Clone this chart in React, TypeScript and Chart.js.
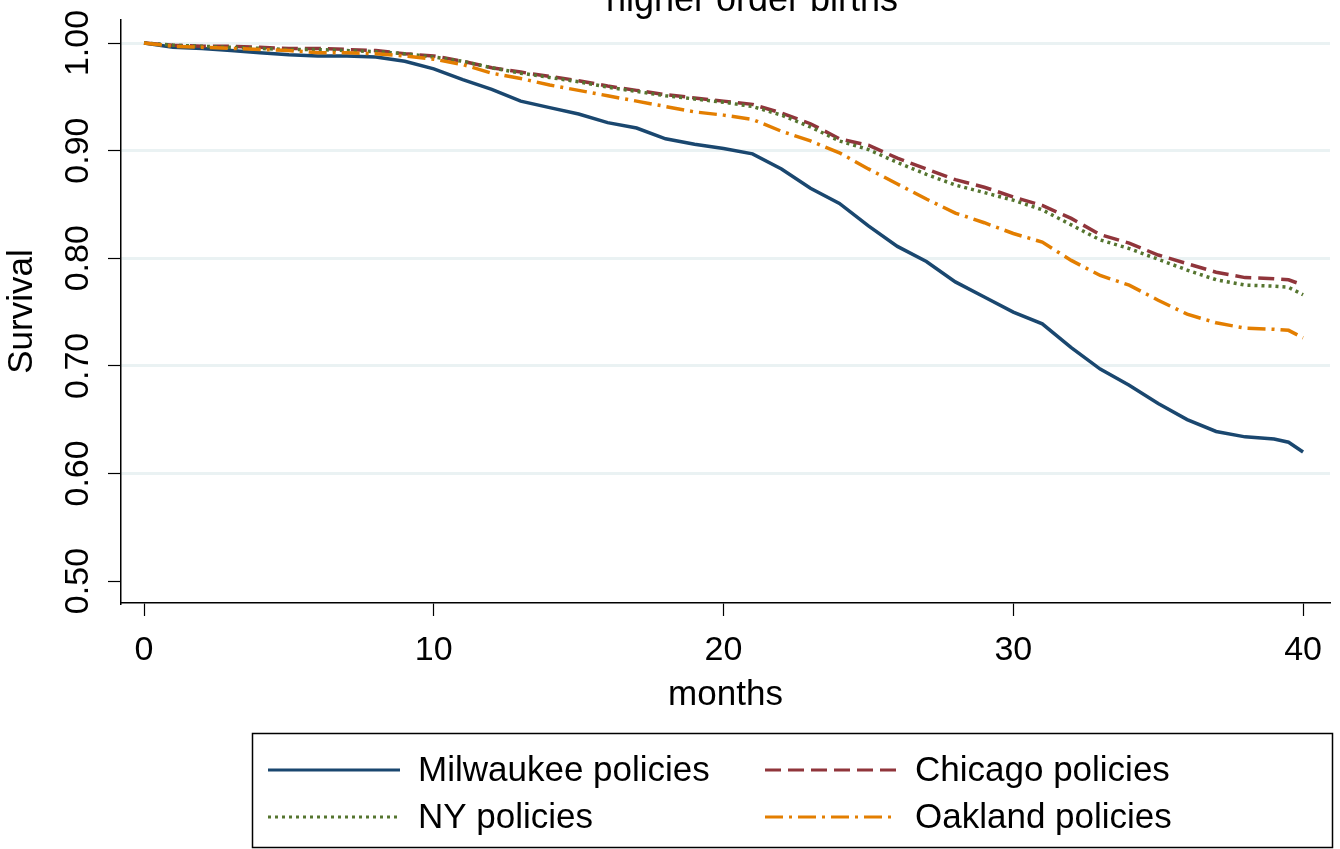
import React, { useEffect, useRef } from 'react';
import { Chart, registerables } from 'chart.js';

Chart.register(...registerables);

const TITLE = 'higher order births';
const X_TITLE = 'months';
const Y_TITLE = 'Survival';

const months = [0, 1, 2, 3, 4, 5, 6, 7, 8, 9, 10, 11, 12, 13, 14, 15, 16, 17, 18, 19, 20,
  21, 22, 23, 24, 25, 26, 27, 28, 29, 30, 31, 32, 33, 34, 35, 36, 37, 38, 39, 39.5, 40];

const milwaukee = [1.000, 0.996, 0.995, 0.993, 0.991, 0.989, 0.988, 0.988, 0.987, 0.983, 0.976,
  0.966, 0.957, 0.946, 0.940, 0.934, 0.926, 0.921, 0.911, 0.906, 0.902,
  0.897, 0.883, 0.865, 0.851, 0.830, 0.811, 0.797, 0.778, 0.764, 0.750,
  0.739, 0.717, 0.697, 0.682, 0.665, 0.650, 0.639, 0.634, 0.632, 0.629, 0.620];

const chicago = [1.000, 0.998, 0.997, 0.997, 0.996, 0.995, 0.995, 0.994, 0.993, 0.990, 0.988,
  0.983, 0.977, 0.973, 0.969, 0.965, 0.960, 0.956, 0.952, 0.949, 0.946,
  0.943, 0.935, 0.925, 0.911, 0.905, 0.893, 0.883, 0.873, 0.866, 0.857,
  0.849, 0.837, 0.822, 0.814, 0.803, 0.795, 0.787, 0.782, 0.781, 0.780, 0.775];

const ny = [1.000, 0.998, 0.997, 0.996, 0.995, 0.994, 0.994, 0.993, 0.992, 0.990, 0.987,
  0.983, 0.977, 0.972, 0.968, 0.964, 0.959, 0.955, 0.951, 0.948, 0.945,
  0.941, 0.933, 0.922, 0.909, 0.901, 0.889, 0.878, 0.868, 0.861, 0.854,
  0.845, 0.831, 0.817, 0.809, 0.799, 0.789, 0.780, 0.775, 0.774, 0.773, 0.766];

const oakland = [1.000, 0.997, 0.996, 0.995, 0.994, 0.993, 0.991, 0.991, 0.990, 0.988, 0.985,
  0.980, 0.972, 0.967, 0.961, 0.956, 0.951, 0.946, 0.941, 0.936, 0.933,
  0.929, 0.918, 0.909, 0.898, 0.883, 0.869, 0.855, 0.842, 0.833, 0.823,
  0.815, 0.798, 0.784, 0.775, 0.761, 0.748, 0.740, 0.735, 0.734, 0.733, 0.726];

const seriesNames = ['Milwaukee policies', 'Chicago policies', 'NY policies', 'Oakland policies'];
const xTickValues = [0, 10, 20, 30, 40];
const yTickValues = [0.5, 0.6, 0.7, 0.8, 0.9, 1.0];

const FONT = '"Liberation Sans", Arial, Helvetica, sans-serif';

const toPoints = (ys: number[]) => months.map((m, i) => ({ x: m, y: ys[i] }));

const titlePlugin = {
  id: 'stataTitle',
  afterDraw(chart: any) {
    const ctx = chart.ctx;
    ctx.save();
    ctx.font = `36px ${FONT}`;
    ctx.fillStyle = '#000';
    ctx.textAlign = 'center';
    ctx.textBaseline = 'alphabetic';
    ctx.fillText(TITLE, 752, 11);
    ctx.restore();
  },
};

const legendPlugin = {
  id: 'stataLegend',
  afterDraw(chart: any) {
    const ctx = chart.ctx;
    ctx.save();
    ctx.strokeStyle = '#000';
    ctx.lineWidth = 1.5;
    ctx.setLineDash([]);
    ctx.strokeRect(252.5, 733.5, 1080, 114);
    const slots = [
      { x: 268, y: 770 },
      { x: 765, y: 770 },
      { x: 268, y: 817 },
      { x: 765, y: 817 },
    ];
    chart.data.datasets.forEach((ds: any, i: number) => {
      const s = slots[i];
      ctx.save();
      ctx.strokeStyle = ds.borderColor;
      ctx.lineWidth = 3;
      ctx.setLineDash(ds.borderDash || []);
      ctx.lineCap = 'butt';
      ctx.beginPath();
      ctx.moveTo(s.x, s.y);
      ctx.lineTo(s.x + 132, s.y);
      ctx.stroke();
      ctx.restore();
      ctx.fillStyle = '#000';
      ctx.font = `35px ${FONT}`;
      ctx.textAlign = 'left';
      ctx.textBaseline = 'middle';
      ctx.fillText(ds.label, s.x + 150, s.y + 1);
    });
    ctx.restore();
  },
};

export default function App() {
  const ref = useRef<HTMLCanvasElement | null>(null);

  useEffect(() => {
    document.body.style.margin = '0';
    const canvas = ref.current;
    if (!canvas) return;
    const chart = new Chart(canvas, {
      type: 'line',
      data: {
        datasets: [
          { label: seriesNames[0], data: toPoints(milwaukee), borderColor: '#1A476F', borderWidth: 3.5, borderDash: [], order: 4 },
          { label: seriesNames[1], data: toPoints(chicago), borderColor: '#90353B', borderWidth: 3.5, borderDash: [16, 7], order: 3 },
          { label: seriesNames[2], data: toPoints(ny), borderColor: '#55752F', borderWidth: 3.5, borderDash: [3, 4], order: 2 },
          { label: seriesNames[3], data: toPoints(oakland), borderColor: '#E37E00', borderWidth: 3.5, borderDash: [18, 6, 3, 6], order: 1 },
        ] as any,
      },
      options: {
        animation: false,
        responsive: false,
        maintainAspectRatio: false,
        layout: { padding: { left: 0, top: 20, right: 10, bottom: 133 } },
        elements: { point: { radius: 0 }, line: { tension: 0, fill: false } },
        plugins: { legend: { display: false }, title: { display: false }, tooltip: { enabled: false } },
        scales: {
          x: {
            type: 'linear',
            min: -0.794,
            max: 40.93,
            afterBuildTicks: (scale: any) => {
              scale.ticks = xTickValues.map((v) => ({ value: v }));
            },
            afterFit: (scale: any) => {
              scale.height = 113;
              scale.paddingLeft = 0;
              scale.paddingRight = 0;
            },
            grid: { drawOnChartArea: false, drawTicks: true, tickLength: 13, tickColor: '#000', tickWidth: 1.2 },
            border: { display: true, color: '#000', width: 1.5 },
            ticks: {
              color: '#000',
              font: { family: FONT, size: 34 },
              padding: 14,
              maxRotation: 0,
              minRotation: 0,
              callback: (v: any) => String(v),
            },
            title: { display: true, text: X_TITLE, color: '#000', font: { family: FONT, size: 35 }, padding: 0 },
          },
          y: {
            type: 'linear',
            min: 0.4796,
            max: 1.0214,
            afterBuildTicks: (scale: any) => {
              scale.ticks = yTickValues.map((v) => ({ value: v }));
            },
            afterFit: (scale: any) => {
              scale.width = 121;
              scale.paddingTop = 0;
              scale.paddingBottom = 0;
            },
            grid: {
              drawOnChartArea: true,
              drawTicks: true,
              tickLength: 13,
              tickColor: '#000',
              tickWidth: 1.2,
              lineWidth: 3,
              color: (c: any) => (c.tick && c.tick.value === 0.5 ? 'rgba(0,0,0,0)' : '#EAF2F3'),
            },
            border: { display: true, color: '#000', width: 1.5 },
            ticks: {
              color: '#000',
              font: { family: FONT, size: 34 },
              padding: -3.5,
              crossAlign: 'center',
              minRotation: 90,
              maxRotation: 90,
              callback: (v: any) => Number(v).toFixed(2),
            },
            title: { display: true, text: Y_TITLE, color: '#000', font: { family: FONT, size: 35 }, padding: { top: 1, bottom: 0 } },
          },
        },
      } as any,
      plugins: [titlePlugin, legendPlugin],
    });
    return () => chart.destroy();
  }, []);

  return (
    <div style={{ width: 1340, height: 849, background: '#fff' }}>
      <canvas ref={ref} width={1340} height={849} style={{ display: 'block' }} />
    </div>
  );
}
